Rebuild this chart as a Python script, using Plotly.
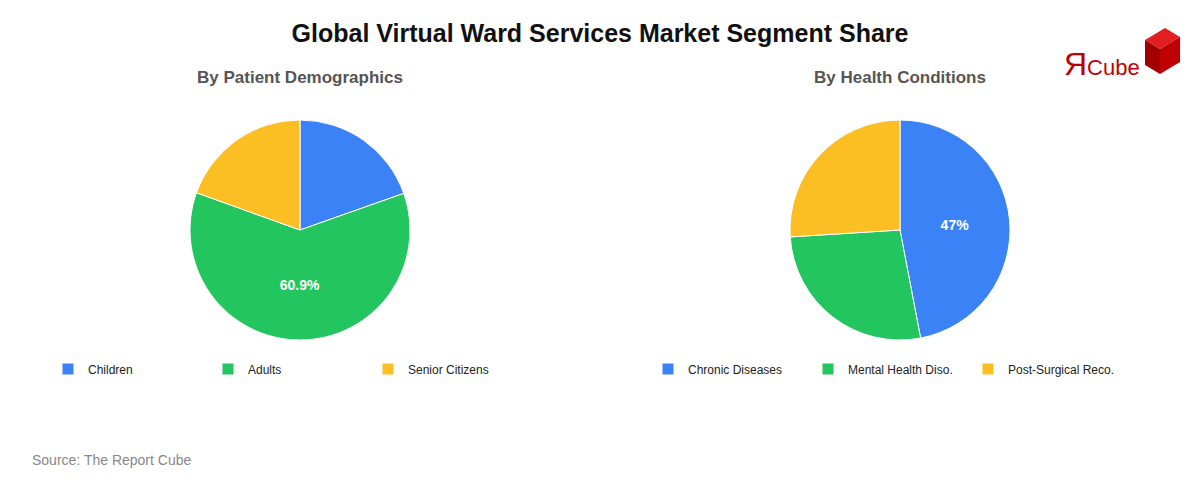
import plotly.graph_objects as go

demo_labels = ["Children", "Adults", "Senior Citizens"]
demo_values = [19.6, 60.9, 19.5]
demo_text = ["", "<b>60.9%</b>", ""]
cond_labels = ["Chronic Diseases", "Mental Health Diso.", "Post-Surgical Reco."]
cond_values = [47, 27, 26]
cond_text = ["<b>47%</b>", "", ""]
colors = ["#3b82f6", "#22c55e", "#fbbf24"]

W, H, OFF = 1200, 480, 8
def px(x): return (x - OFF) / W
def py(y): return 1 - (y - OFF) / H

def dom(cx, cy, r=110):
    return dict(x=[px(cx - r), px(cx + r)], y=[py(cy + r), py(cy - r)])

fig = go.Figure()
fig.add_trace(go.Pie(labels=demo_labels, values=demo_values, text=demo_text,
    texttemplate="%{text}", textposition="inside", sort=False, direction="clockwise",
    marker=dict(colors=colors, line=dict(color="white", width=1)),
    textfont=dict(color="white", size=14, family="Arial"),
    domain=dom(300, 230), legend="legend", hoverinfo="label+percent"))
fig.add_trace(go.Pie(labels=cond_labels, values=cond_values, text=cond_text,
    texttemplate="%{text}", textposition="inside", sort=False, direction="clockwise",
    marker=dict(colors=colors, line=dict(color="white", width=1)),
    textfont=dict(color="white", size=14, family="Arial"),
    domain=dom(900, 230), legend="legend2", hoverinfo="label+percent"))

leg = dict(orientation="h", yanchor="middle", y=py(369), xanchor="left",
           entrywidth=115, entrywidthmode="pixels", font=dict(size=12, color="#222", family="Arial"),
           bgcolor="rgba(0,0,0,0)", itemwidth=30)

def cube(x0, y0):
    def P(pts):
        return "M " + " L ".join(f"{px(a):.4f} {py(b):.4f}" for a, b in pts) + " Z"
    top = P([(x0, y0), (x0 + 20, y0 - 12), (x0 + 35, y0 - 3), (x0 + 15, y0 + 9)])
    left = P([(x0, y0), (x0 + 15, y0 + 9), (x0 + 15, y0 + 34), (x0, y0 + 25)])
    right = P([(x0 + 15, y0 + 9), (x0 + 35, y0 - 3), (x0 + 35, y0 + 22), (x0 + 15, y0 + 34)])
    return [dict(type="path", xref="paper", yref="paper", path=p, fillcolor=c, line=dict(width=0))
            for p, c in [(top, "#e02020"), (left, "#a00000"), (right, "#c00000")]]

fig.update_layout(
    width=W, height=H, margin=dict(l=0, r=0, t=0, b=0, autoexpand=False),
    paper_bgcolor="white", font=dict(family="Arial"),
    legend=dict(leg, x=px(48)), legend2=dict(leg, x=px(648)),
    title=dict(text="<b>Global Virtual Ward Services Market Segment Share</b>",
               x=px(600), y=py(33), yanchor="middle", xanchor="center",
               font=dict(size=25, color="#111")),
    annotations=[
        dict(text="<b>By Patient Demographics</b>", x=px(300), y=py(77), yanchor="middle", xanchor="center",
             xref="paper", yref="paper", showarrow=False, font=dict(size=17, color="#555")),
        dict(text="<b>By Health Conditions</b>", x=px(900), y=py(77), yanchor="middle", xanchor="center",
             xref="paper", yref="paper", showarrow=False, font=dict(size=17, color="#555")),
        dict(text="Source: The Report Cube", x=px(30), y=py(460), yanchor="middle", xref="paper", yref="paper",
             xanchor="left", showarrow=False, font=dict(size=14, color="#888")),
        dict(text="<span style='font-size:32px'>Я</span>Cube", x=px(1062), y=py(64), yanchor="middle",
             xref="paper", yref="paper", xanchor="left", showarrow=False, font=dict(size=22, color="#c00000")),
    ],
    shapes=cube(1145, 40),
)
fig.write_html("out.html")
